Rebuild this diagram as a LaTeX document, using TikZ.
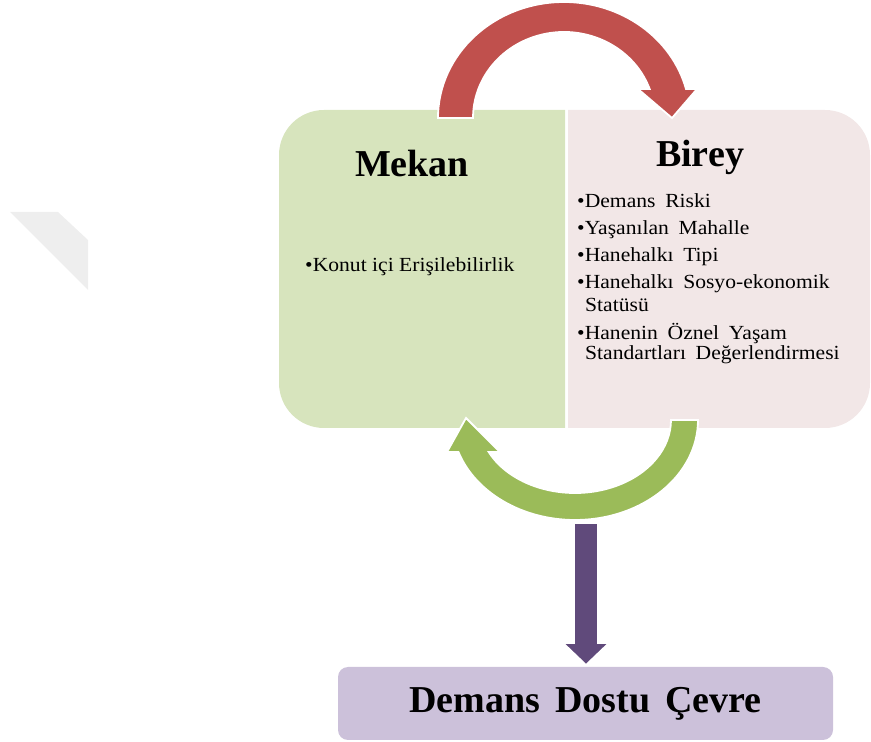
\documentclass[tikz,border=0pt]{standalone}
\usepackage{fontspec}
\setmainfont{Liberation Serif}
\definecolor{arrowred}{HTML}{C0504D}
\definecolor{arrowgreen}{HTML}{9BBB59}
\definecolor{arrowpurple}{HTML}{604A7B}
\definecolor{panelgreen}{HTML}{D7E4BD}
\definecolor{panelpink}{HTML}{F2E7E7}
\definecolor{boxpurple}{HTML}{CCC1DA}
\definecolor{wmark}{HTML}{EEEEEE}
\newcommand{\wsp}{\hspace{0.45em}}
\tikzset{
  bigarrow/.style={draw=white, line width=1.8pt, line join=miter},
  titletext/.style={font=\fontsize{38}{40}\selectfont\bfseries, inner sep=0pt},
  itemtext/.style={font=\fontsize{20}{22}\selectfont, inner sep=0pt, anchor=base west, xscale=1.08},
}
\begin{document}
\begin{tikzpicture}[x=1pt,y=1pt]
\useasboundingbox (0,0) rectangle (871,742);
% faint watermark
\fill[wmark] (10,530) -- (58,530) -- (88,502) -- (88,452) -- cycle;
% panels
\fill[panelgreen] (565,632) [rounded corners=45] -- (279,632) -- (279,314) [sharp corners] -- (565,314) -- cycle;
\fill[panelpink] (568,314) [rounded corners=45] -- (870,314) -- (870,632) [sharp corners] -- (568,632) -- cycle;
% red arrow (Mekan -> Birey)
\path[bigarrow, fill=arrowred] (438,624)
  arc[start angle=180, end angle=14.5, x radius=126, y radius=116]
  -- (697,653) -- (672,624) -- (638,653) -- (649.7,653)
  arc[start angle=19.7, end angle=180, x radius=91, y radius=86] -- cycle;
% green arrow (Birey -> Mekan)
\path[bigarrow, fill=arrowgreen] (698,322)
  arc[start angle=360, end angle=198.7, x radius=123, y radius=100]
  -- (447,290) -- (466,324) -- (500,290) -- (488.7,290)
  arc[start angle=206, end angle=360, x radius=96, y radius=73] -- cycle;
% purple arrow
\path[bigarrow, fill=arrowpurple] (574,219) -- (598,219) -- (598,99) -- (609,99)
  -- (586,77) -- (563,99) -- (574,99) -- cycle;
% titles
\node[titletext, anchor=base] (mekan) at (412,565) {Mekan};
\node[titletext, anchor=base] (birey) at (700,575) {Birey};
% items
\node[itemtext] (k1) at (305,470) {•Konut içi Erişilebilirlik};
\node[itemtext] (b1) at (577,534) {•Demans\wsp Riski};
\node[itemtext] (b2) at (577,507) {•Yaşanılan\wsp Mahalle};
\node[itemtext] (b3) at (577,480) {•Hanehalkı\wsp Tipi};
\node[itemtext] (b4) at (577,453) {•Hanehalkı\wsp Sosyo-ekonomik};
\node[itemtext] (b4b) at (585,430) {Statüsü};
\node[itemtext] (b5) at (577,402) {•Hanenin\wsp Öznel\wsp Yaşam};
\node[itemtext] (b5b) at (585,382) {Standartları\wsp Değerlendirmesi};
% bottom box
\node[fill=boxpurple, rounded corners=10, minimum width=495, minimum height=73, inner sep=0pt,
  font=\fontsize{38}{40}\selectfont\bfseries] (dd) at (585.5,38.5) {Demans\hspace{0.4em}Dostu\hspace{0.4em}Çevre};
\end{tikzpicture}
\end{document}
